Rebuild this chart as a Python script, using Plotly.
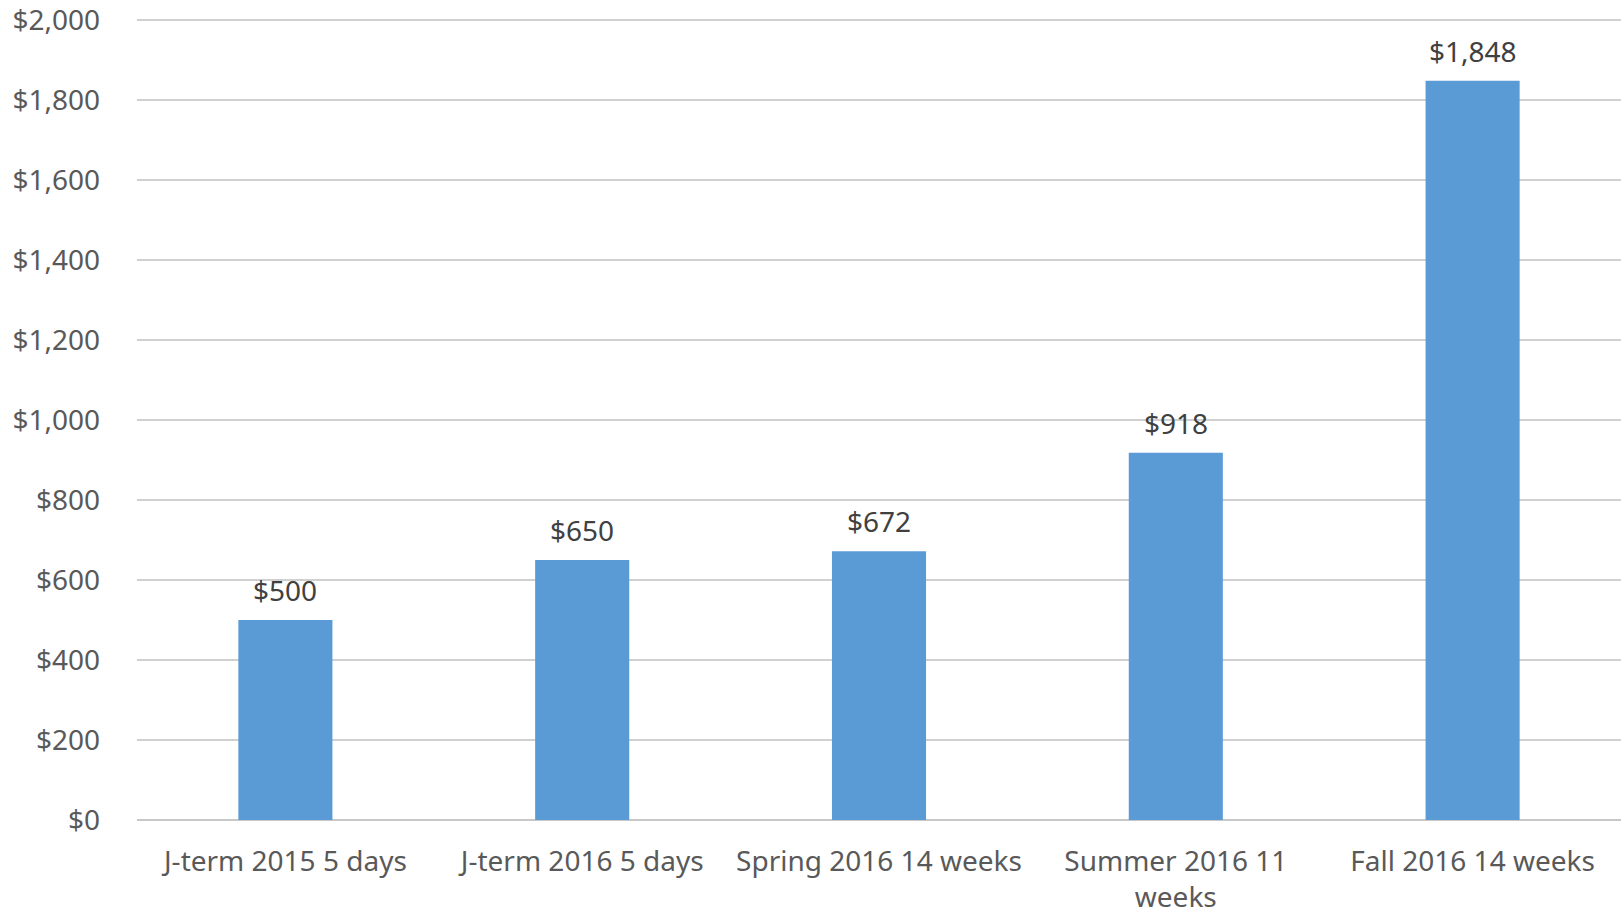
import plotly.graph_objects as go

categories = ["J-term 2015 5 days", "J-term 2016 5 days", "Spring 2016 14 weeks",
              "Summer 2016 11<br>weeks", "Fall 2016 14 weeks"]
values = [500, 650, 672, 918, 1848]
y_ticks = [0, 200, 400, 600, 800, 1000, 1200, 1400, 1600, 1800, 2000]
y_tick_text = ["${:,}".format(t) for t in y_ticks]

FONT = "Noto Sans"
fig = go.Figure()
fig.add_trace(go.Bar(
    x=categories, y=values,
    marker=dict(color="#5b9bd5", line=dict(width=0)),
    hoverinfo="skip",
))

for c, v in zip(categories, values):
    fig.add_annotation(
        x=c, y=v, text="${:,}".format(v), showarrow=False,
        yanchor="middle", yshift=30,
        font=dict(family=FONT, size=28, color="#404040"),
    )

fig.update_layout(
    width=1624, height=914,
    margin=dict(l=137, r=3, t=18, b=94, autoexpand=False),
    paper_bgcolor="white", plot_bgcolor="white",
    bargap=0.683,
    showlegend=False,
    font=dict(family=FONT, size=27, color="#595959"),
)
fig.update_yaxes(
    range=[0, 2005], tickvals=y_ticks, ticktext=y_tick_text,
    showgrid=True, gridcolor="#d0d0d0", gridwidth=2,
    zeroline=True, zerolinecolor="#c8c8c8", zerolinewidth=2,
    showline=False, ticks="", ticklabelstandoff=36, automargin=False,
    ticklabeloverflow="allow",
    tickfont=dict(family=FONT, size=28, color="#595959"),
)
fig.update_xaxes(
    showgrid=False, showline=False, ticks="", ticklabelstandoff=22, automargin=False,
    tickfont=dict(family=FONT, size=28, color="#595959"),
)

fig.write_html("out.html", config={"displayModeBar": False},
               post_script="document.body.style.margin='0';")
